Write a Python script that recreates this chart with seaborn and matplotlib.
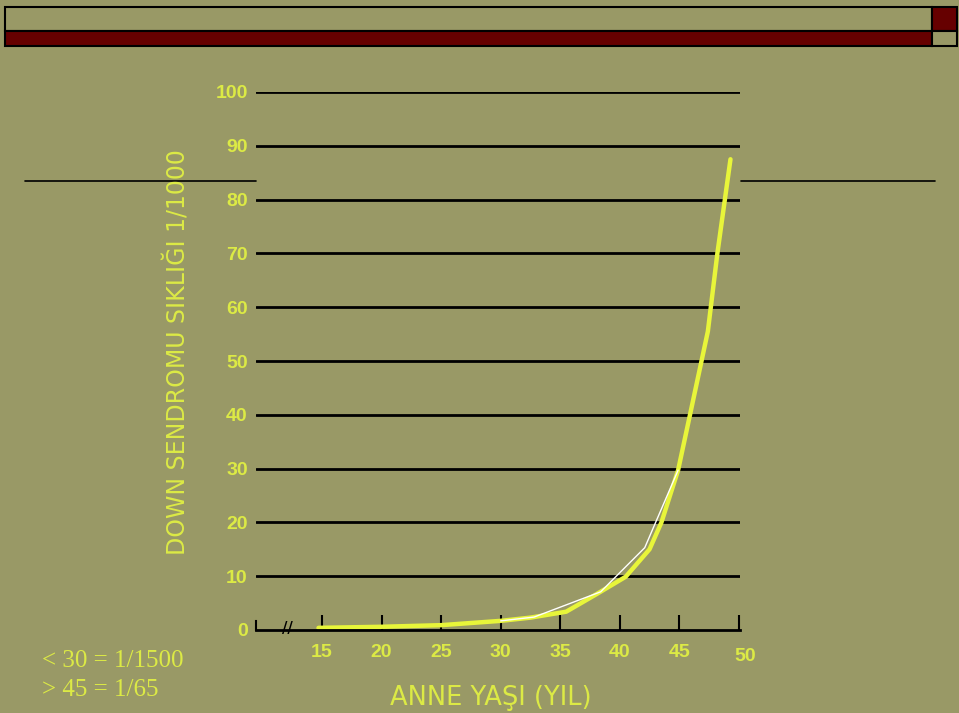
import matplotlib
matplotlib.use("Agg")
import matplotlib.pyplot as plt
import matplotlib.transforms as mtransforms
from matplotlib.patches import Rectangle
from matplotlib.lines import Line2D
import seaborn as sns
import pandas as pd

# ---- data ----
age_main = [14.7, 20, 25, 30, 32.5, 35.5, 38.0, 40.5, 42.5, 43.5, 44.9, 45.9, 47.4, 48.2, 49.3]
risk_main = [0.4, 0.6, 0.9, 1.7, 2.3, 3.4, 6.6, 9.9, 15.0, 20.0, 29.7, 40.0, 55.5, 70.0, 87.5]
age_alt = [30, 32.8, 38.4, 42.1, 44.9]
risk_alt = [1.7, 2.4, 7.1, 15.3, 29.7]
x_ticks = [15, 20, 25, 30, 35, 40, 45, 50]
y_ticks = [0, 10, 20, 30, 40, 50, 60, 70, 80, 90, 100]
y_label = "DOWN SENDROMU SIKLIĞI 1/1000"
x_label = "ANNE YAŞI (YIL)"
notes = ["< 30 = 1/1500", "> 45 = 1/65"]

BG = "#999966"
DARK = "#660000"
TXT = "#DCEA45"
CURVE = "#E8F53A"

sns.set_theme(style="white")
plt.rcParams["font.family"] = ["Liberation Sans", "DejaVu Sans"]

W, H = 959, 713
fig = plt.figure(figsize=(W / 100, H / 100), dpi=100, facecolor=BG)


def fx(x):
    return x / W


def fy(y):
    return 1 - y / H


# ---- slide decoration ----
def rect(x0, y0, x1, y1, fc):
    fig.patches.append(Rectangle((fx(x0), fy(y1)), fx(x1) - fx(x0), fy(y0) - fy(y1),
                                 transform=fig.transFigure, facecolor=fc,
                                 edgecolor="black", linewidth=1.5))


rect(5, 7, 932, 31, BG)
rect(932, 7, 957, 31, DARK)
rect(5, 31, 932, 46, DARK)
rect(932, 31, 957, 46, BG)
fig.lines.append(Line2D([fx(25), fx(256)], [fy(181), fy(181)], transform=fig.transFigure,
                        color="black", linewidth=1.2))
fig.lines.append(Line2D([fx(741), fx(935)], [fy(181), fy(181)], transform=fig.transFigure,
                        color="black", linewidth=1.2))

# ---- axes ----
ax = fig.add_axes([fx(256), fy(630), fx(740) - fx(256), fy(92) - fy(630)])
ax.set_facecolor(BG)
ax.set_xlim(9.45, 50.1)
ax.set_ylim(0, 100)

for yv in y_ticks[1:]:
    ax.axhline(yv, color="black", linewidth=2, zorder=1)

df_alt = pd.DataFrame({"age": age_alt, "risk": risk_alt})
df_main = pd.DataFrame({"age": age_main, "risk": risk_main})
sns.lineplot(data=df_alt, x="age", y="risk", ax=ax, color="white", linewidth=1.0,
             sort=False, estimator=None, zorder=3)
sns.lineplot(data=df_main, x="age", y="risk", ax=ax, color=CURVE, linewidth=3.2,
             sort=False, estimator=None, zorder=2)

for s in ["top", "right"]:
    ax.spines[s].set_visible(False)
ax.spines["bottom"].set_color("black")
ax.spines["bottom"].set_linewidth(2)
ax.spines["left"].set_color("black")
ax.spines["left"].set_linewidth(1.5)
ax.spines["left"].set_bounds(0, 1.6)
ax.spines["bottom"].set_zorder(4)

ax.set_xticks(x_ticks)
ax.set_xticklabels([str(v) for v in x_ticks])
ax.set_yticks(y_ticks)
ax.set_yticklabels([str(v) for v in y_ticks])
ax.tick_params(axis="x", direction="in", length=11, width=1.5, color="black",
               pad=10, labelsize=14, labelcolor=TXT, bottom=True)
ax.tick_params(axis="y", length=0, pad=6, labelsize=14, labelcolor=TXT, left=False)
for lab in ax.get_xticklabels() + ax.get_yticklabels():
    lab.set_fontweight("bold")
# last x tick label sits a bit lower/right in the reference
last = ax.get_xticklabels()[-1]
last.set_transform(last.get_transform() + mtransforms.ScaledTranslation(6 / 100, -4 / 100, fig.dpi_scale_trans))
ax.set_xlabel("")
ax.set_ylabel("")

# axis break mark
brk = mtransforms.blended_transform_factory(ax.transData, ax.transAxes)
ax.text(12.1, 0.0, "//", transform=brk, ha="center", va="center", fontsize=14,
        color="black", clip_on=False, zorder=5)

# ---- texts ----
fig.text(fx(178), fy(352), y_label, rotation=90, ha="center", va="center",
         fontsize=17, color=TXT, family=["DejaVu Sans"])
fig.text(fx(491), fy(698), x_label, ha="center", va="center",
         fontsize=18.5, color=TXT, family=["DejaVu Sans"])
fig.text(fx(42), fy(661), notes[0], ha="left", va="center", fontsize=18,
         color=TXT, family=["Liberation Serif"])
fig.text(fx(42), fy(690), notes[1], ha="left", va="center", fontsize=18,
         color=TXT, family=["Liberation Serif"])

fig.savefig("out.png", dpi=100, facecolor=BG)
